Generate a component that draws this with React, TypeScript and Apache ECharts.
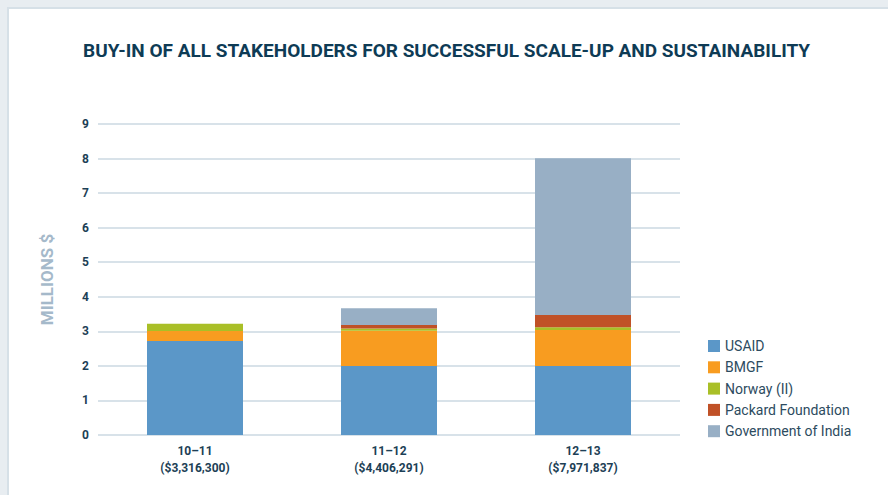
import React, { useEffect, useRef } from "react";
import * as echarts from "echarts";

const periods = ["10–11", "11–12", "12–13"];
const totals = ["($3,316,300)", "($4,406,291)", "($7,971,837)"];
const seriesNames = ["USAID", "BMGF", "Norway (II)", "Packard Foundation", "Government of India"];
const usaid = [2.72, 2.0, 2.0];
const bmgf = [0.29, 1.02, 1.04];
const norway = [0.21, 0.06, 0.08];
const packard = [0, 0.1, 0.35];
const govIndia = [0, 0.49, 4.54];
const colors = ["#5b97c8", "#f89c20", "#a9bf27", "#c05127", "#98afc5"];

export default function App() {
  const ref = useRef<HTMLDivElement>(null);
  useEffect(() => {
    document.body.style.margin = "0";
    const chart = echarts.init(ref.current!, undefined, { renderer: "svg" });
    const values = [usaid, bmgf, norway, packard, govIndia];
    chart.setOption({
      animation: false,
      backgroundColor: "#e8edf1",
      textStyle: { fontFamily: "Roboto" },
      graphic: [
        {
          type: "rect",
          shape: { x: 8, y: 8, width: 900, height: 500 },
          style: { fill: "#ffffff", stroke: "#d6e0e7", lineWidth: 2 },
          z: -10,
        },
      ],
      title: {
        text: "BUY-IN OF ALL STAKEHOLDERS FOR SUCCESSFUL SCALE-UP AND SUSTAINABILITY",
        left: 78,
        top: 36,
        textStyle: {
          fontFamily: "Roboto",
          fontWeight: "bold",
          fontSize: 19,
          color: "#0e3b55",
        },
      },
      legend: {
        orient: "vertical",
        left: 703,
        top: 334,
        itemWidth: 12,
        itemHeight: 12,
        itemGap: 7.3,
        icon: "rect",
        data: seriesNames,
        textStyle: { fontSize: 14, lineHeight: 14, color: "#2d4b60", fontFamily: "Roboto" },
      },
      grid: { left: 98, right: 208, top: 124, bottom: 60 },
      xAxis: {
        type: "category",
        data: periods,
        axisLine: { show: false },
        axisTick: { show: false },
        axisLabel: {
          margin: 7,
          lineHeight: 17,
          fontWeight: "bold",
          fontSize: 12,
          color: "#1d3f56",
          formatter: (v: string, i: number) => `${v}\n${totals[i]}`,
        },
      },
      yAxis: {
        type: "value",
        min: 0,
        max: 9,
        interval: 1,
        name: "MILLIONS $",
        nameLocation: "middle",
        nameGap: 43,
        nameTextStyle: { fontWeight: "bold", fontSize: 17, color: "#a5b9ca" },
        axisLine: { show: false },
        axisTick: { show: false },
        axisLabel: { margin: 9, fontWeight: "bold", fontSize: 12, color: "#1d3f56" },
        splitLine: { lineStyle: { color: "#d8e2e9", width: 2 } },
      },
      series: seriesNames.map((name, i) => ({
        name,
        type: "bar",
        stack: "total",
        barWidth: 96,
        data: values[i],
        itemStyle: { color: colors[i] },
      })),
    });
    return () => chart.dispose();
  }, []);
  return <div ref={ref} style={{ width: 888, height: 495 }} />;
}
